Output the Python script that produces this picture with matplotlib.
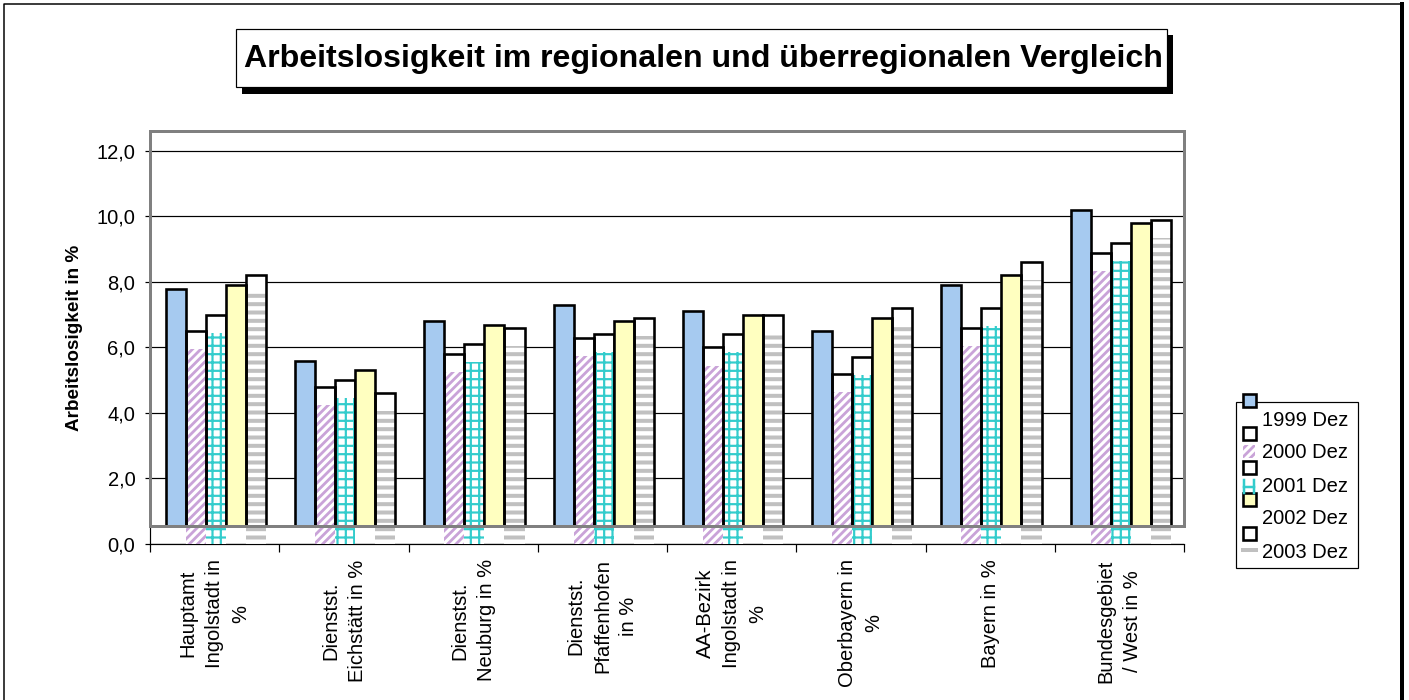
import matplotlib
matplotlib.use("Agg")
import matplotlib.pyplot as plt
from matplotlib.patches import Rectangle
import numpy as np

plt.rcParams['font.family'] = ['Liberation Sans', 'DejaVu Sans']

categories = ["Hauptamt\nIngolstadt in\n%", "Dienstst.\nEichstätt in %", "Dienstst.\nNeuburg in %",
              "Dienstst.\nPfaffenhofen\nin %", "AA-Bezirk\nIngolstadt in\n%", "Oberbayern in\n%",
              "Bayern in %", "Bundesgebiet\n/ West in %"]
dez_1999 = [7.8, 5.6, 6.8, 7.3, 7.1, 6.5, 7.9, 10.2]
dez_2000 = [6.5, 4.8, 5.8, 6.3, 6.0, 5.2, 6.6, 8.9]
dez_2001 = [7.0, 5.0, 6.1, 6.4, 6.4, 5.7, 7.2, 9.2]
dez_2002 = [7.9, 5.3, 6.7, 6.8, 7.0, 6.9, 8.2, 9.8]
dez_2003 = [8.2, 4.6, 6.6, 6.9, 7.0, 7.2, 8.6, 9.9]
series_names = ["1999 Dez", "2000 Dez", "2001 Dez", "2002 Dez", "2003 Dez"]
yticks = [0, 2, 4, 6, 8, 10, 12]

W, H = 1409, 700
floor = 0.55
ymax = 12.61
fig = plt.figure(figsize=(W / 100, H / 100), dpi=100)
px = 72 / 100  # points per pixel

ax = fig.add_axes([150 / W, 1 - 544 / H, (1184 - 150) / W, (544 - 131) / H])
ax.set_xlim(0, 8)
ax.set_ylim(0, ymax)

x = np.arange(8) + 0.5
bw = 0.155
offs = (np.arange(5) - 2) * bw + 0.01

def hatch_bar(xpos, vals, hatch, color, lw):
    with plt.rc_context({'hatch.linewidth': lw}):
        # white box from the floor, hatch shifted down, then the black outline
        ax.bar(xpos, np.array(vals) - floor, bw, bottom=floor, color='white', linewidth=0, zorder=2)
        bars = ax.bar(xpos, np.array(vals) - floor, bw, bottom=0, facecolor='white', edgecolor=color,
                      linewidth=0, hatch=hatch, zorder=3)
        for b in bars:
            if hasattr(b, 'set_hatch_linewidth'):
                b.set_hatch_linewidth(lw)
        ax.bar(xpos, np.array(vals) - floor, bw, bottom=floor, facecolor='none', edgecolor='black',
               linewidth=2.6 * px, zorder=4)

ax.bar(x + offs[0], np.array(dez_1999) - floor, bw, bottom=floor, color='#A6CAF0',
       edgecolor='black', linewidth=2.6 * px, zorder=4)
hatch_bar(x + offs[1], dez_2000, '////', '#C9A3D8', 2.8 * px)
hatch_bar(x + offs[2], dez_2001, '++', '#33CCCC', 2.2 * px)
ax.bar(x + offs[3], np.array(dez_2002) - floor, bw, bottom=floor, color='#FFFFC0',
       edgecolor='black', linewidth=2.6 * px, zorder=4)
hatch_bar(x + offs[4], dez_2003, '--', '#C0C0C0', 4 * px)

# plot frame (grey) above floor
ax.add_patch(Rectangle((0, floor), 8, ymax - floor, fill=False, edgecolor='#808080',
                       linewidth=3 * px, zorder=5, clip_on=False))

for s in ['top', 'right']:
    ax.spines[s].set_visible(False)
ax.spines['left'].set_linewidth(1.2 * px)
ax.spines['bottom'].set_linewidth(1.2 * px)

ax.set_yticks(yticks)
ax.set_yticklabels([f"{v:.1f}".replace('.', ',') for v in yticks], fontsize=14.5)
ax.yaxis.grid(True, color='black', linewidth=1.2 * px)
ax.set_axisbelow(True)
ax.tick_params(axis='y', direction='out', length=5 * px, width=1.2 * px, pad=7)

ax.set_xticks(np.arange(9))
ax.set_xticklabels([])
ax.set_xticks(x, minor=True)
ax.set_xticklabels(categories, minor=True, rotation=90, fontsize=14.5, ha='center', va='top')
for lab in ax.get_xticklabels(minor=True):
    lab.set_multialignment('center')
    lab.set_linespacing(1.5)
ax.tick_params(axis='x', which='major', direction='out', length=8 * px, width=1.2 * px)
ax.tick_params(axis='x', which='minor', length=0, pad=11)

ax.set_ylabel("Arbeitslosigkeit in %", fontsize=13.6, fontweight='bold', labelpad=10)

# overlay in pixel coordinates for title box, legend and outer frame
ov = fig.add_axes([0, 0, 1, 1], zorder=10)
ov.set_xlim(0, W)
ov.set_ylim(H, 0)
ov.axis('off')
ov.patch.set_alpha(0)

ov.plot([3.5, 3.5, 1402], [H, 4, 4], color='black', linewidth=1.5 * px)
ov.plot([1402, 1402], [4, H], color='black', linewidth=4 * px)

ov.add_patch(Rectangle((242, 35), 931, 59, facecolor='black', edgecolor='none'))
ov.add_patch(Rectangle((236, 29), 931, 58, facecolor='white', edgecolor='black', linewidth=1.2 * px))
ov.text(703, 59, "Arbeitslosigkeit im regionalen und überregionalen Vergleich",
        fontsize=23.1, fontweight='bold', ha='center', va='center')

# legend
ov.add_patch(Rectangle((1236, 402), 122, 166, facecolor='white', edgecolor='black', linewidth=1.2 * px))
def sq(yc, fc):
    ov.add_patch(Rectangle((1243, yc - 6.5), 13, 13, facecolor=fc, edgecolor='black', linewidth=2.6 * px))
sq(400, '#A6CAF0')
sq(433, 'white')
sq(467, 'white')
sq(499, '#FFFFC0')
sq(533, 'white')
with plt.rc_context({'hatch.linewidth': 2.8 * px}):
    hp = Rectangle((1243, 445), 12, 13, facecolor='white', edgecolor='#C9A3D8', linewidth=0, hatch='////')
    if hasattr(hp, 'set_hatch_linewidth'):
        hp.set_hatch_linewidth(2.8 * px)
    ov.add_patch(hp)
ov.plot([1244, 1244], [480, 493], color='#33CCCC', linewidth=2.5 * px)
ov.plot([1254, 1254], [480, 493], color='#33CCCC', linewidth=2.5 * px)
ov.plot([1244, 1254], [487, 487], color='#33CCCC', linewidth=2.5 * px)
ov.plot([1243, 1256], [550, 550], color='#C0C0C0', linewidth=4 * px)
for name, yc in zip(series_names, [420, 453, 486, 519, 553]):
    ov.text(1262, yc, name, fontsize=14.5, ha='left', va='center')

fig.savefig("out.png", dpi=100)
